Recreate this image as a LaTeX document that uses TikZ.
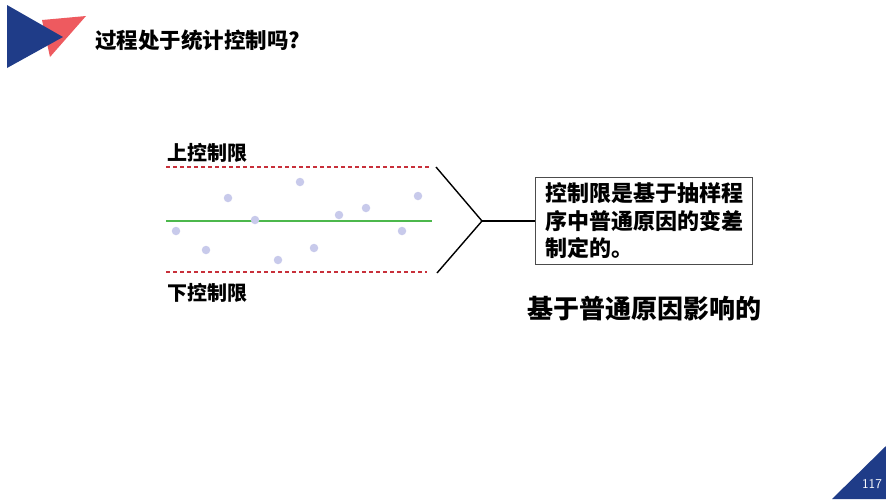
\documentclass[tikz,border=0pt]{standalone}
\usepackage{fontspec}
\newfontfamily\cjk{Noto Sans CJK SC}
\definecolor{navy}{HTML}{1F3C88}
\definecolor{salmon}{HTML}{EE5A5F}
\definecolor{dotc}{HTML}{C8CAEB}
\definecolor{gline}{HTML}{4CB84C}
\definecolor{rdash}{HTML}{C8303A}
\tikzset{
  lbl/.style={font=\cjk\bfseries\fontsize{20}{24}\selectfont, inner sep=0pt},
  pt/.style={circle, fill=dotc, inner sep=0pt, minimum size=8.5pt},
  limit/.style={draw=rdash, dash pattern=on 4pt off 3pt, line width=1.1pt},
  center/.style={draw=gline, line width=1.6pt},
  brk/.style={draw=black, line width=1.4pt},
}
\begin{document}
\begin{tikzpicture}[x=1pt,y=-1pt]
\useasboundingbox[fill=white] (0,0) rectangle (886,499);
% logo
\fill[salmon] (42,20) -- (86,16) -- (50,57) -- cycle;
\fill[navy] (7,5) -- (7,68) -- (63,37) -- cycle;
\node[lbl, anchor=west, font=\cjk\bfseries\fontsize{21.5}{24}\selectfont] (title) at (95,40) {过程处于统计控制吗?};
% corner
\fill[navy] (832,499) -- (886,446) -- (886,499) -- cycle;
\node[font=\sffamily\fontsize{13.5}{15}\selectfont, text=white, inner sep=0pt] (pg) at (872,484) {117};
% labels
\node[lbl, anchor=west] (ucl) at (167,153) {上控制限};
\node[lbl, anchor=west] (lcl) at (167,293) {下控制限};
% lines
\coordinate (u1) at (166,167); \coordinate (u2) at (430,167);
\coordinate (c1) at (166,221); \coordinate (c2) at (432,221);
\coordinate (l1) at (166,272); \coordinate (l2) at (427,272);
\draw[limit] (u1) -- (u2);
\draw[center] (c1) -- (c2);
\draw[limit] (l1) -- (l2);
% dots
\foreach \i/\x/\y in {1/176/231,2/206/250,3/228/198,4/255/220,5/278/260,6/300/182,7/314/248,8/339/215,9/366/208,10/402/231,11/418/196}
  \node[pt] (d\i) at (\x,\y) {};
% box
\node[draw=black!70, line width=1pt, anchor=north west, inner xsep=7pt, inner ysep=5pt, align=left,
  minimum width=217pt, minimum height=87pt,
  font=\cjk\bfseries\fontsize{22}{27.5}\selectfont] (box) at (535,177)
  {控制限是基于抽样程\\序中普通原因的变差\\制定的。};
% bracket
\coordinate (bt) at (436,167);
\coordinate (bb) at (437,273);
\coordinate (bv) at (482,221);
\draw[brk] (bt) -- (bv) -- (bb);
\draw[brk] (bv) -- (box.west |- bv);
% bottom text
\node[lbl, font=\cjk\bfseries\fontsize{26}{30}\selectfont, anchor=west] (note) at (527,309) {基于普通原因影响的};
\end{tikzpicture}
\end{document}
